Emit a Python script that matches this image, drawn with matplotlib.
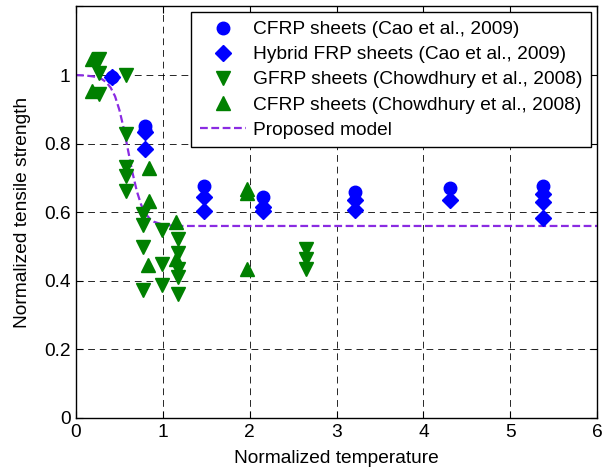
import matplotlib
matplotlib.use("Agg")
import matplotlib.pyplot as plt

plt.rcParams['font.family'] = ['Liberation Sans', 'DejaVu Sans']

# CFRP sheets (Cao et al., 2009) - circles
cao_cfrp_x = [0.42, 0.80, 0.80, 1.475, 2.15, 3.21, 4.31, 5.38]
cao_cfrp_y = [0.995, 0.852, 0.840, 0.677, 0.645, 0.658, 0.672, 0.677]

# Hybrid FRP sheets (Cao et al., 2009) - diamonds
cao_hyb_x = [0.42, 0.80, 0.80, 1.475, 1.475, 2.15, 2.15, 3.21, 3.21, 4.31, 5.38, 5.38, 5.38]
cao_hyb_y = [0.995, 0.835, 0.784, 0.645, 0.605, 0.614, 0.603, 0.636, 0.607, 0.636, 0.653, 0.629, 0.582]

# GFRP sheets (Chowdhury et al., 2008) - down triangles
ch_gfrp_x = [0.27, 0.26, 0.58, 0.27, 0.58, 0.576, 0.58, 0.58,
             0.776, 0.776, 0.776, 0.776, 0.99, 0.99, 0.99,
             1.18, 1.17, 1.18, 1.18, 1.18, 2.65, 2.65, 2.65]
ch_gfrp_y = [1.048, 1.007, 1.000, 0.946, 0.828, 0.733, 0.706, 0.663,
             0.595, 0.564, 0.498, 0.374, 0.547, 0.450, 0.387,
             0.522, 0.480, 0.435, 0.410, 0.362, 0.493, 0.464, 0.435]

# CFRP sheets (Chowdhury et al., 2008) - up triangles
ch_cfrp_x = [0.19, 0.19, 0.84, 0.84, 0.83, 1.15, 1.15, 1.97, 1.97, 1.97]
ch_cfrp_y = [1.048, 0.953, 0.729, 0.634, 0.445, 0.571, 0.465, 0.668, 0.655, 0.435]

# Proposed model
model_x = [0, 0.1, 0.2, 0.3, 0.35, 0.4, 0.45, 0.5, 0.55, 0.6, 0.65, 0.7, 0.75,
           0.8, 0.85, 0.9, 1.0, 1.1, 1.2, 6.0]
model_y = [1.0, 0.999, 0.996, 0.988, 0.979, 0.963, 0.938, 0.898, 0.844, 0.780,
           0.716, 0.662, 0.622, 0.596, 0.581, 0.572, 0.564, 0.561, 0.560, 0.560]

labels = ['CFRP sheets (Cao et al., 2009)',
          'Hybrid FRP sheets (Cao et al., 2009)',
          'GFRP sheets (Chowdhury et al., 2008)',
          'CFRP sheets (Chowdhury et al., 2008)',
          'Proposed model']

xticks = [0, 1, 2, 3, 4, 5, 6]
yticks = [0, 0.2, 0.4, 0.6, 0.8, 1.0, 1.2]
ytick_labels = ['0', '0.2', '0.4', '0.6', '0.8', '1', '']

FS = 13.8

fig = plt.figure(figsize=(6.09, 4.70), dpi=100)
ax = fig.add_axes([76/609, 1-418/470, (597-76)/609, (418-6.5)/470])

blue = '#0000ff'
green = '#008000'
purple = '#8a2be2'

ax.plot(cao_cfrp_x, cao_cfrp_y, 'o', color=blue, ms=9, mec=blue, label=labels[0], zorder=3)
ax.plot(cao_hyb_x, cao_hyb_y, 'D', color=blue, ms=7.8, mec=blue, label=labels[1], zorder=3)
ax.plot(ch_gfrp_x, ch_gfrp_y, 'v', color=green, ms=10, mec=green, label=labels[2], zorder=3)
ax.plot(ch_cfrp_x, ch_cfrp_y, '^', color=green, ms=10, mec=green, label=labels[3], zorder=3)
ax.plot(model_x, model_y, color=purple, lw=1.6, linestyle=(0, (3.5, 1.6)), label=labels[4], zorder=2)

ax.set_xlim(0, 6)
ax.set_ylim(0, 1.2)
ax.set_xticks(xticks)
ax.set_yticks(yticks)
ax.set_yticklabels(ytick_labels)

ax.grid(True, color='k', lw=0.7, linestyle=(0, (7, 5)), alpha=0.85)
ax.set_axisbelow(True)
ax.tick_params(direction='in', top=True, right=True, length=5, width=0.8,
               labelsize=FS, pad=4)
for s in ax.spines.values():
    s.set_linewidth(1.0)
    s.set_color('k')

ax.set_xlabel('Normalized temperature', fontsize=FS, labelpad=7)
ax.set_ylabel('Normalized tensile strength', fontsize=FS, labelpad=9)

leg = ax.legend(loc='upper right', fontsize=FS, frameon=True, fancybox=False,
                edgecolor='k', framealpha=1, borderaxespad=0.3,
                handlelength=2.4, handletextpad=0.38, labelspacing=0.40,
                borderpad=0.45, numpoints=1)
leg.get_frame().set_linewidth(1.0)

fig.savefig('out.png', dpi=100)
